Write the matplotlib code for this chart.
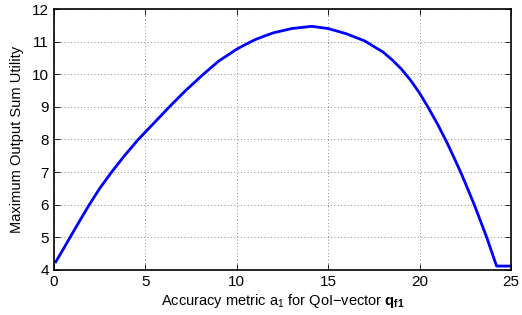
import matplotlib.pyplot as plt
import numpy as np

# values
acc = [0.1, 0.5, 0.88, 1.4, 1.93, 2.5, 3.15, 3.85, 4.61, 5.07, 5.7, 6.31, 7.2, 8.17,
       9.0, 10.0, 10.5, 11.0, 11.5, 12, 13, 14.1, 15, 16, 17, 18, 18.5, 19, 19.5, 20,
       20.45, 21.0, 21.5, 21.9, 22.3, 22.99, 23.67, 24.0, 24.21, 25]
util = [4.25, 4.63, 5.0, 5.5, 6.0, 6.5, 7.0, 7.5, 8.0, 8.27, 8.64, 9.0, 9.5, 10.0,
        10.4, 10.77, 10.92, 11.06, 11.17, 11.27, 11.40, 11.47, 11.40, 11.24, 11.02, 10.68,
        10.44, 10.16, 9.82, 9.42, 9.0, 8.45, 7.9, 7.42, 6.93, 6.0, 5.0, 4.46, 4.12, 4.12]

plt.rcParams['font.family'] = ['Liberation Sans', 'DejaVu Sans']
plt.rcParams['mathtext.fontset'] = 'custom'
plt.rcParams['mathtext.rm'] = 'Liberation Sans'
plt.rcParams['mathtext.it'] = 'Liberation Sans'
plt.rcParams['mathtext.bf'] = 'Liberation Sans:bold'

fig = plt.figure(figsize=(5.22, 3.15), dpi=100)
ax = fig.add_axes([0.1034, 0.1429, 0.8756, 0.8285])

ax.plot(acc, util, color='#0000ff', lw=2)

ax.set_xlim(0, 25)
ax.set_ylim(4, 12)
ax.set_xticks(np.arange(0, 26, 5))
ax.set_yticks(np.arange(4, 13, 1))
ax.tick_params(direction='in', top=True, right=True, labelsize=11, length=4, width=0.6)
ax.grid(True, linestyle=(0, (1, 3)), color='#666666', linewidth=0.6)
for s in ax.spines.values():
    s.set_linewidth(1.2)

ax.set_xlabel('Accuracy metric a$_1$ for QoI\u2212vector $\\mathbf{q}_{\\mathbf{f1}}$', fontsize=10.5, labelpad=2)
ax.set_ylabel('Maximum Output Sum Utility', fontsize=10.5, labelpad=6)

fig.savefig('out.png', dpi=100)
